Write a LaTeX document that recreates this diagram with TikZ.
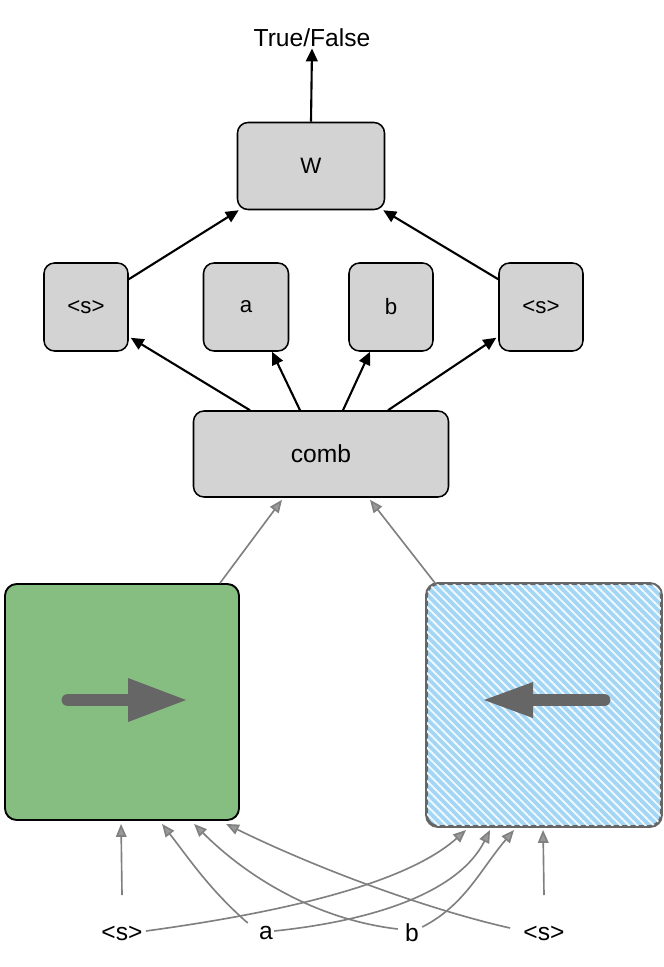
\documentclass[tikz,border=0pt]{standalone}
\usepackage{fontspec}
\setmainfont{Liberation Sans}
\usetikzlibrary{arrows.meta,calc,patterns.meta}
\definecolor{boxg}{HTML}{D3D3D3}
\definecolor{grn}{HTML}{86BD80}
\definecolor{blu}{HTML}{A3D6F5}
\definecolor{ar}{HTML}{666666}
\definecolor{ln}{HTML}{808080}
\begin{document}
\begin{tikzpicture}[x=0.03cm,y=-0.03cm,
  gbox/.style={draw=black,line width=1.3pt,fill=boxg,rounded corners=9pt,inner sep=0pt,font=\fontsize{19}{22}\selectfont},
  lbl/.style={inner sep=1pt,font=\fontsize{21}{24}\selectfont},
  blk/.style={line width=1.8pt,-{Triangle[length=11pt,width=10pt]}},
  gry/.style={draw=ln,line width=1.4pt,-{Triangle[length=11pt,width=9pt,fill=ln!80]}}]
\useasboundingbox (0,0) rectangle (664,967);
\node[lbl] (tf) at (312,38) {True/False};
\node[gbox,minimum width=4.41cm,minimum height=2.61cm] (W) at (311,166) {W};
\node[gbox,minimum width=2.52cm,minimum height=2.64cm] (sL) at (86,307) {<s>};
\node[gbox,minimum width=2.55cm,minimum height=2.64cm] (a) at (246,307) {a};
\node[gbox,minimum width=2.52cm,minimum height=2.64cm] (b) at (391,307) {b};
\node[gbox,minimum width=2.52cm,minimum height=2.64cm] (sR) at (541,307) {<s>};
\node[gbox,minimum width=7.65cm,minimum height=2.58cm,font=\fontsize{21}{24}\selectfont] (comb) at (321,454) {comb};
\node[draw=black,line width=1.6pt,fill=grn,rounded corners=10pt,minimum width=7.02cm,minimum height=7.08cm] (G) at (122,702) {};
\node[draw=ar,line width=1.6pt,fill=blu,rounded corners=10pt,minimum width=7.02cm,minimum height=7.26cm] (B) at (544,705) {};
\fill[pattern={Lines[angle=-45,distance=5pt,line width=1.6pt]},pattern color=white!85!blu,rounded corners=10pt] (B.south west) rectangle (B.north east);
\draw[ar,line width=1.6pt,rounded corners=10pt] (B.south west) rectangle (B.north east);
% inner arrows
\draw[ar,line width=11pt,line cap=round] ($(G.center)+(-54,-2)$) -- ($(G.center)+(10,-2)$);
\fill[ar] ($(G.center)+(6,-24)$) -- ($(G.center)+(64,-2)$) -- ($(G.center)+(6,20)$) -- cycle;
\draw[ar,line width=11pt,line cap=round] ($(B.center)+(60,-5)$) -- ($(B.center)+(-10,-5)$);
\fill[ar] ($(B.center)+(-11,-23)$) -- ($(B.center)+(-60,-5)$) -- ($(B.center)+(-11,13)$) -- cycle;
% black arrows
\draw[blk] (W.north) -- (tf.south);
\draw[blk] ($(sL.north east)+(0,17)$) -- ($(W.south west)+(2,0)$);
\draw[blk] ($(sR.north west)+(0,17)$) -- ($(W.south east)+(-2,0)$);
\draw[blk] ($(comb.north)+(-71,0)$) -- ($(sL.south east)+(2,-14)$);
\draw[blk] ($(comb.north)+(-21,0)$) -- ($(a.south)+(26,0)$);
\draw[blk] ($(comb.north)+(22,0)$) -- ($(b.south)+(-21,0)$);
\draw[blk] ($(comb.north)+(67,0)$) -- ($(sR.south west)+(-2,-14)$);
% gray to comb
\draw[gry] ($(G.north)+(98,0)$) -- ($(comb.south)+(-39,2)$);
\draw[gry] ($(B.north west)+(9,0)$) -- ($(comb.south)+(49,2)$);
% bottom
\node[lbl] (iS) at (122,933) {<s>};
\node[lbl] (ia) at (266,933) {a};
\node[lbl] (ib) at (412,933) {b};
\node[lbl] (iE) at (544,933) {<s>};
\draw[gry] (122,895) -- ($(G.south west)+(117,3)$);
\draw[gry] (544,895) -- ($(B.south west)+(117,3)$);
\draw[gry] ($(iS.east)+(2,-2)$) .. controls (300,910) and (410,880) .. ($(B.south west)+(40,3)$);
\draw[gry] ($(ia.east)+(0,-2)$) .. controls (380,920) and (460,890) .. ($(B.south west)+(64,3)$);
\draw[gry] ($(ib.east)+(2,-6)$) .. controls (465,905) and (480,870) .. ($(B.south west)+(88,3)$);
\draw[gry] ($(ia.west)+(-10,-10)$) .. controls (210,890) and (190,860) .. ($(G.south west)+(158,3)$);
\draw[gry] ($(ib.west)+(-6,-4)$) .. controls (320,920) and (250,880) .. ($(G.south west)+(190,3)$);
\draw[gry] ($(iE.west)+(-12,-5)$) .. controls (430,910) and (320,870) .. ($(G.south west)+(222,3)$);
\end{tikzpicture}
\end{document}
